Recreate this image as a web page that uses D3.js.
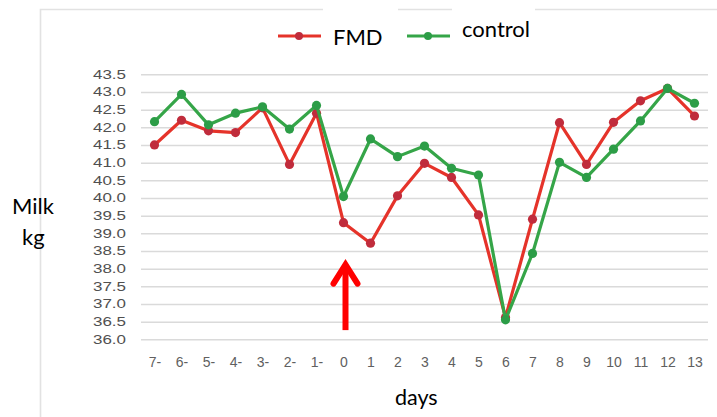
<!DOCTYPE html>
<html>
<head>
<meta charset="utf-8">
<script src="https://cdn.jsdelivr.net/npm/d3@7"></script>
<style>
  html, body { margin: 0; padding: 0; background: #fff; }
  svg { display: block; }
</style>
</head>
<body>
<svg id="chart" width="717" height="417"></svg>
<script>
const days = ["7-","6-","5-","4-","3-","2-","1-","0","1","2","3","4","5","6","7","8","9","10","11","12","13"];
const fmd = [41.5, 42.2, 41.9, 41.85, 42.55, 40.95, 42.4, 39.3, 38.72, 40.06, 40.98, 40.58, 39.52, 36.62, 39.4, 42.13, 40.95, 42.14, 42.75, 43.1, 42.32];
const control = [42.16, 42.93, 42.07, 42.4, 42.58, 41.95, 42.62, 40.04, 41.67, 41.17, 41.47, 40.84, 40.65, 36.55, 38.43, 41.01, 40.58, 41.38, 42.18, 43.1, 42.68];
const yTicks = [36.0, 36.5, 37.0, 37.5, 38.0, 38.5, 39.0, 39.5, 40.0, 40.5, 41.0, 41.5, 42.0, 42.5, 43.0, 43.5];
const seriesNames = ["FMD", "control"];
const arrowDay = "0";
const arrowRange = [36.26, 38.17];

(function () {
const svg = d3.select("#chart");
const W = 717, H = 417;
const pLeft = 141, pRight = 708, pTop = 74.3, pBottom = 339.3;

svg.append("rect").attr("width", W).attr("height", H).attr("fill", "#fff");

// frame
svg.append("path")
  .attr("d", `M40.5,${H} L40.5,9.5 L${W},9.5`)
  .attr("fill", "none").attr("stroke", "#e2e2e2").attr("stroke-width", 1.6);

const x = d3.scalePoint().domain(days).range([pLeft, pRight]).padding(0.5);
const y = d3.scaleLinear().domain([36, 43.5]).range([pBottom, pTop]);

// grid
const grid = svg.append("g").attr("transform", `translate(${pLeft},0)`)
  .call(d3.axisLeft(y).tickValues(yTicks).tickSize(-(pRight - pLeft)).tickFormat(""));
grid.select(".domain").remove();
grid.selectAll(".tick line").attr("stroke", "#dadada").attr("stroke-width", 1.5);

// y labels
const yAx = svg.append("g").attr("transform", `translate(126,0)`)
  .call(d3.axisLeft(y).tickValues(yTicks).tickSize(0).tickPadding(0).tickFormat(d3.format(".1f")));
yAx.select(".domain").remove();
yAx.selectAll("text")
  .attr("font-family", "Liberation Sans, Arial, sans-serif")
  .attr("font-size", 12)
  .attr("fill", "#505050")
  .attr("textLength", 33)
  .attr("lengthAdjust", "spacingAndGlyphs");

// x labels
const xAx = svg.append("g").attr("transform", `translate(0,${pBottom})`)
  .call(d3.axisBottom(x).tickSize(0).tickPadding(18));
xAx.select(".domain").remove();
xAx.selectAll("text")
  .attr("font-family", "Liberation Sans, Arial, sans-serif")
  .attr("font-size", 14)
  .attr("fill", "#606060");

// lines
const line = d3.line().x((d, i) => x(days[i])).y(d => y(d));
const series = [
  { name: seriesNames[0], values: fmd, line: "#e5332a", dot: "#c02c3c" },
  { name: seriesNames[1], values: control, line: "#35a548", dot: "#2c9d47" }
];
series.forEach(s => {
  svg.append("path").datum(s.values)
    .attr("d", line).attr("fill", "none")
    .attr("stroke", s.line).attr("stroke-width", 3.2)
    .attr("stroke-linejoin", "round");
  svg.append("g").selectAll("circle").data(s.values).join("circle")
    .attr("cx", (d, i) => x(days[i])).attr("cy", d => y(d))
    .attr("r", 4.6).attr("fill", s.dot);
});

// legend
const legItems = [
  { s: series[0], lx: 278, tx: 333, ty: 44.5, box: [323, 0, 75, 60] },
  { s: series[1], lx: 407, tx: 462, ty: 37, box: [452, 0, 83, 50] }
];
legItems.forEach(it => {
  svg.append("line").attr("x1", it.lx).attr("x2", it.lx + 43).attr("y1", 36).attr("y2", 36)
    .attr("stroke", it.s.line).attr("stroke-width", 3);
  svg.append("circle").attr("cx", it.lx + 21).attr("cy", 36).attr("r", 4).attr("fill", it.s.dot);
  svg.append("rect").attr("x", it.box[0]).attr("y", it.box[1]).attr("width", it.box[2]).attr("height", it.box[3])
    .attr("fill", "#fff");
  svg.append("text").attr("x", it.tx).attr("y", it.ty).text(it.s.name)
    .attr("font-family", "Lato, 'Open Sans', sans-serif").attr("font-size", 22).attr("fill", "#000");
});

// axis titles
const tfont = "Lato, 'Open Sans', sans-serif";
svg.append("text").attr("x", 12).attr("y", 214).text("Milk")
  .attr("font-family", tfont).attr("font-size", 22).attr("fill", "#000");
svg.append("text").attr("x", 22).attr("y", 245).text("kg")
  .attr("font-family", tfont).attr("font-size", 22).attr("fill", "#000");
svg.append("text").attr("x", 395).attr("y", 405).text("days")
  .attr("font-family", tfont).attr("font-size", 21.5).attr("fill", "#000");

// arrow annotation
const ax = x(arrowDay) + 2;
const yT = y(arrowRange[1]), yB = y(arrowRange[0]);
svg.append("line").attr("x1", ax).attr("x2", ax).attr("y1", yB).attr("y2", yT + 4)
  .attr("stroke", "#ff0000").attr("stroke-width", 6);
svg.append("path")
  .attr("d", `M${ax - 12},${yT + 21} L${ax},${yT + 2} L${ax + 12},${yT + 21}`)
  .attr("fill", "none").attr("stroke", "#ff0000").attr("stroke-width", 6)
  .attr("stroke-linejoin", "miter").attr("stroke-linecap", "round");
})();
</script>
</body>
</html>
